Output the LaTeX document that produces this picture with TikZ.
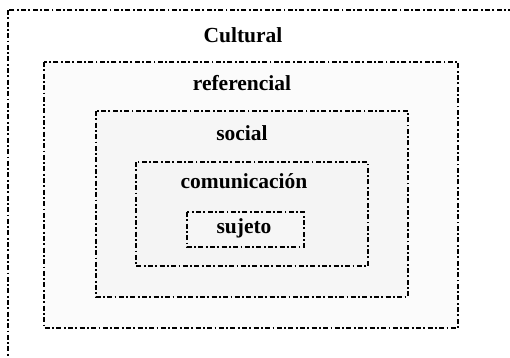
\documentclass[tikz,border=0pt]{standalone}
\usepackage{fontspec}
\setmainfont{Liberation Serif}
\usetikzlibrary{positioning}

\begin{document}
\begin{tikzpicture}[x=1pt,y=-1pt,
	frame/.style={draw=black,line width=2.2pt,dash pattern=on 5pt off 2.4pt on 1.8pt off 2.4pt},
	level label/.style={anchor=base,inner sep=0pt,font=\bfseries\fontsize{21.5}{25}\selectfont}]

    \useasboundingbox (0,0) rectangle (510,357);

    % nested frames, outermost first
    \draw[frame] (8,10) rectangle (525,372);
    \draw[frame,fill=gray!3] (44,62) rectangle (458,328);
    \draw[frame,fill=gray!7] (96,111) rectangle (408,297);
    \draw[frame,fill=gray!9] (136,162) rectangle (368,266);
    \draw[frame,fill=gray!7] (187,212) rectangle (304,247);

    \node[level label] (cultural) at (243,42) {Cultural};
    \node[level label] (referencial) at (242,90) {referencial};
    \node[level label] (social) at (242,140) {social};
    \node[level label] (comunicacion) at (244,188) {comunicación};
    \node[level label] (sujeto) at (244,233) {sujeto};

\end{tikzpicture}
\end{document}
